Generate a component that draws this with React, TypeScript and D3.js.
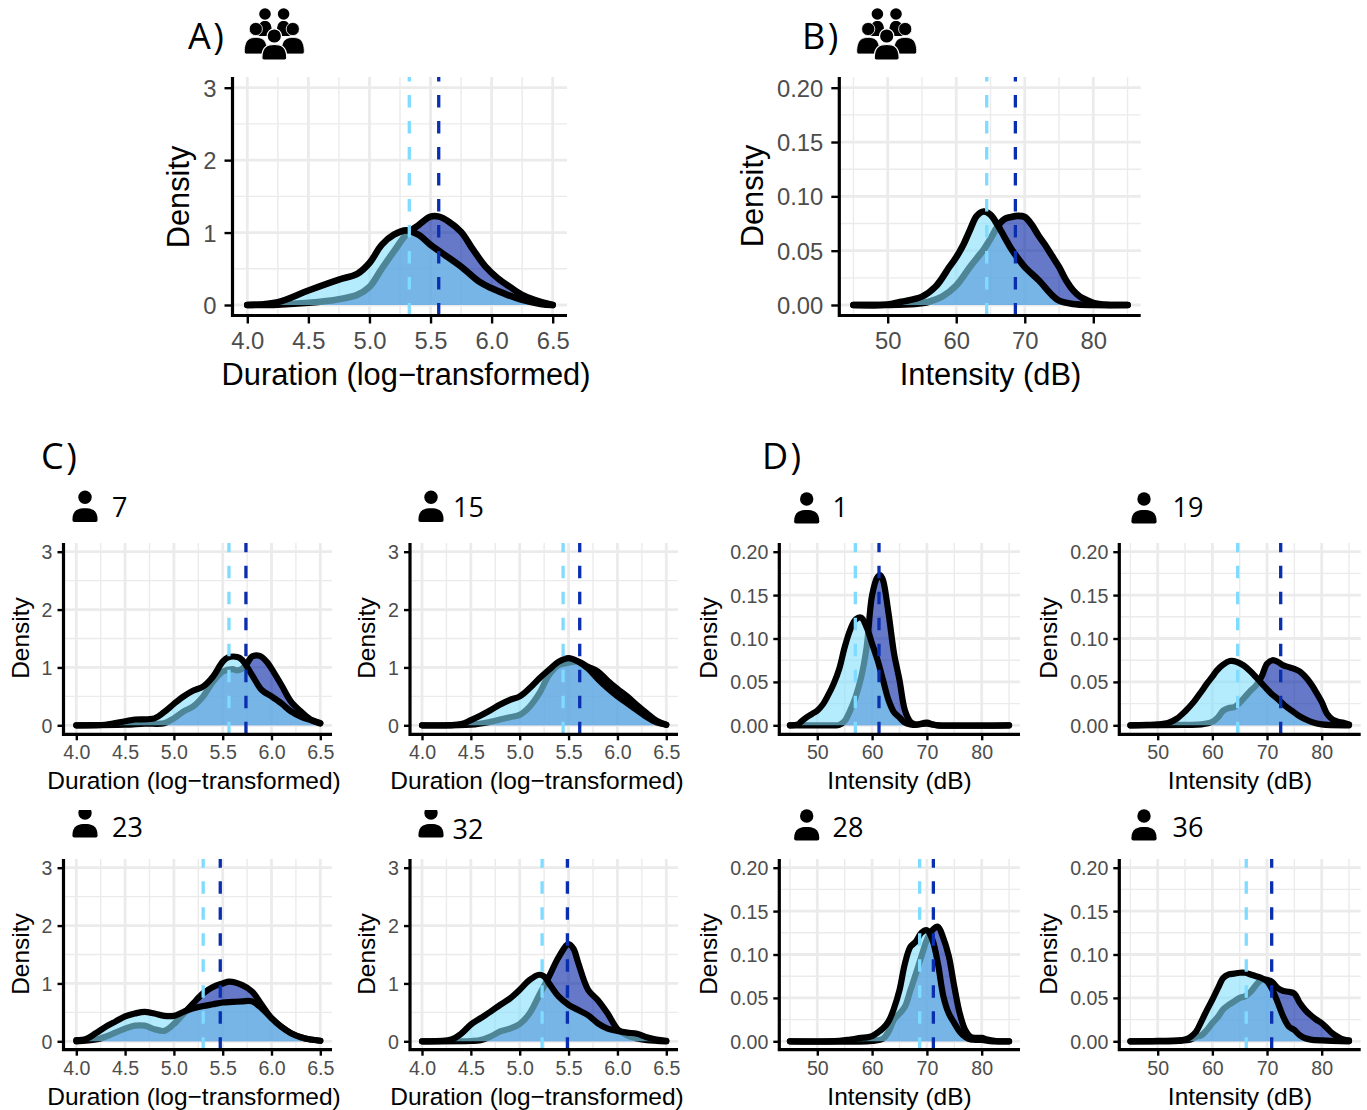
import React, { useEffect, useRef } from "react";
import * as d3 from "d3";

type Pts = [number, number][];

const durationTicks = [4, 4.5, 5, 5.5, 6, 6.5];
const durationMinor = [4.25, 4.75, 5.25, 5.75, 6.25];
const intensityTicks = [50, 60, 70, 80];
const intensityMinor = [45, 55, 65, 75, 85];
const durationDensityTicks = [0, 1, 2, 3];
const durationDensityMinor = [0.5, 1.5, 2.5];
const intensityDensityTicks = [0, 0.05, 0.1, 0.15, 0.2];
const intensityDensityMinor = [0.025, 0.075, 0.125, 0.175];

// group means, [light, dark]
const meansA = [5.326, 5.567];
const meansB = [64.45, 68.63];
const means7 = [5.564, 5.738];
const means15 = [5.444, 5.614];
const means23 = [5.3, 5.475];
const means32 = [5.229, 5.488];
const means1 = [56.94, 61.26];
const means19 = [64.63, 72.5];
const means28 = [68.68, 71.18];
const means36 = [66.2, 70.85];

// densities
const lightA: Pts = [[4,0],[4.25,0.04],[4.5,0.2],[4.75,0.35],[4.9,0.43],[5,0.58],[5.1,0.83],[5.2,0.97],[5.3,1.03],[5.4,0.97],[5.5,0.83],[5.6,0.71],[5.75,0.53],[5.9,0.32],[6,0.23],[6.1,0.16],[6.25,0.07],[6.4,0.015],[6.5,0]];
const darkA: Pts = [[4,0],[4.25,0.005],[4.5,0.03],[4.75,0.08],[4.9,0.14],[5,0.25],[5.1,0.5],[5.2,0.74],[5.3,0.97],[5.4,1.1],[5.5,1.22],[5.57,1.22],[5.65,1.15],[5.75,1.01],[5.85,0.76],[5.95,0.53],[6.05,0.37],[6.15,0.25],[6.25,0.14],[6.35,0.07],[6.5,0]];
const lightB: Pts = [[45,0],[50,0.0005],[52,0.003],[55,0.0077],[57,0.017],[59,0.035],[60,0.044],[61,0.055],[62,0.069],[63,0.082],[64,0.086],[65,0.083],[66,0.074],[67,0.063],[68,0.052],[69,0.043],[70,0.035],[72,0.023],[74,0.009],[75,0.004],[77,0.001],[80,0],[85,0]];
const darkB: Pts = [[45,0],[50,0],[54,0.001],[56,0.003],[58,0.008],[60,0.018],[62,0.035],[63,0.043],[64,0.051],[65,0.061],[66,0.072],[67,0.079],[68,0.081],[69,0.082],[70,0.081],[71,0.074],[72,0.064],[73,0.055],[74,0.045],[75,0.035],[76,0.023],[77,0.014],[78,0.008],[79,0.0046],[80,0.002],[82,0.0003],[85,0]];
const light7: Pts = [[4,0],[4.3,0.01],[4.5,0.07],[4.6,0.1],[4.8,0.12],[4.9,0.23],[5,0.37],[5.1,0.5],[5.2,0.6],[5.3,0.67],[5.4,0.84],[5.5,1.1],[5.55,1.17],[5.65,1.18],[5.7,1.13],[5.8,0.87],[5.9,0.61],[6,0.5],[6.1,0.38],[6.2,0.24],[6.3,0.15],[6.4,0.09],[6.5,0.03]];
const dark7: Pts = [[4,0],[4.5,0.01],[4.7,0.03],[4.9,0.035],[5,0.12],[5.1,0.24],[5.2,0.33],[5.3,0.5],[5.4,0.75],[5.5,0.93],[5.6,0.97],[5.65,0.95],[5.7,0.98],[5.75,1.07],[5.8,1.19],[5.88,1.2],[5.95,1.1],[6,0.98],[6.1,0.7],[6.2,0.41],[6.3,0.24],[6.4,0.1],[6.5,0.04]];
const light15: Pts = [[4,0],[4.4,0.02],[4.5,0.09],[4.6,0.17],[4.7,0.26],[4.8,0.36],[4.9,0.44],[5,0.5],[5.1,0.64],[5.2,0.81],[5.3,0.96],[5.4,1.1],[5.5,1.16],[5.6,1.1],[5.7,0.98],[5.8,0.8],[5.9,0.64],[6,0.5],[6.1,0.38],[6.2,0.26],[6.3,0.14],[6.4,0.05],[6.5,0.01]];
const dark15: Pts = [[4,0],[4.5,0.01],[4.7,0.06],[4.9,0.14],[5,0.18],[5.1,0.32],[5.2,0.55],[5.3,0.87],[5.4,1.04],[5.5,1.08],[5.6,1.1],[5.7,1.01],[5.8,0.93],[5.9,0.77],[6,0.63],[6.1,0.5],[6.2,0.35],[6.3,0.21],[6.4,0.08],[6.5,0.01]];
const light23: Pts = [[4,0.02],[4.1,0.04],[4.2,0.14],[4.3,0.25],[4.4,0.34],[4.5,0.43],[4.6,0.48],[4.7,0.51],[4.8,0.48],[4.9,0.44],[5,0.44],[5.1,0.51],[5.2,0.57],[5.3,0.61],[5.4,0.64],[5.5,0.67],[5.6,0.68],[5.7,0.69],[5.8,0.69],[5.9,0.57],[6,0.4],[6.1,0.25],[6.2,0.14],[6.3,0.07],[6.4,0.03],[6.5,0.01]];
const dark23: Pts = [[4,0],[4.2,0.03],[4.3,0.08],[4.4,0.15],[4.5,0.22],[4.6,0.27],[4.7,0.27],[4.8,0.21],[4.9,0.18],[5,0.3],[5.1,0.48],[5.2,0.66],[5.3,0.83],[5.4,0.94],[5.5,1],[5.57,1.03],[5.7,0.97],[5.8,0.86],[5.9,0.63],[6,0.4],[6.1,0.25],[6.2,0.14],[6.3,0.07],[6.4,0.03],[6.5,0.01]];
const light32: Pts = [[4,0],[4.3,0.03],[4.4,0.13],[4.5,0.29],[4.6,0.4],[4.7,0.51],[4.8,0.63],[4.9,0.74],[5,0.89],[5.1,1.06],[5.2,1.15],[5.25,1.12],[5.3,1],[5.4,0.77],[5.5,0.63],[5.6,0.54],[5.7,0.45],[5.8,0.31],[5.9,0.22],[6,0.18],[6.1,0.15],[6.2,0.13],[6.3,0.07],[6.4,0.03],[6.5,0.01]];
const dark32: Pts = [[4,0],[4.5,0.005],[4.6,0.02],[4.7,0.08],[4.8,0.17],[4.9,0.22],[5,0.3],[5.1,0.48],[5.2,0.8],[5.3,1.12],[5.4,1.46],[5.5,1.68],[5.55,1.6],[5.6,1.35],[5.7,0.89],[5.8,0.71],[5.9,0.48],[6,0.21],[6.1,0.1],[6.2,0.05],[6.3,0.02],[6.5,0]];
const light1: Pts = [[45,0],[46.5,0.001],[47,0.004],[48,0.009],[49,0.013],[50,0.017],[51,0.024],[52,0.035],[53,0.048],[54,0.065],[55,0.09],[56,0.11],[57,0.122],[58,0.124],[59,0.113],[60,0.094],[61,0.075],[62,0.052],[63,0.029],[64,0.015],[65,0.009],[66,0.003],[67,0.001],[68,0.0005],[70,0.003],[71,0.001],[72,0],[85,0]];
const dark1: Pts = [[45,0],[53,0],[54,0.0005],[55,0.005],[56,0.017],[57,0.033],[58,0.055],[59,0.09],[60,0.15],[61,0.171],[61.5,0.173],[62,0.167],[63,0.129],[64,0.083],[65,0.052],[66,0.017],[67,0.004],[68,0.001],[70,0.002],[71,0.001],[72,0],[85,0]];
const light19: Pts = [[45,0],[48,0.0005],[50,0.001],[52,0.003],[53.5,0.0077],[55,0.016],[56.6,0.027],[58,0.039],[59,0.048],[60,0.056],[60.8,0.063],[62,0.07],[63.2,0.074],[64.5,0.073],[65.7,0.069],[67,0.062],[68.2,0.054],[69.5,0.045],[70.7,0.037],[72,0.03],[73.2,0.023],[74.5,0.017],[75.7,0.0115],[77,0.007],[78.1,0.004],[80,0.001],[85,0]];
const dark19: Pts = [[45,0],[55,0.0005],[58,0.001],[60,0.004],[61,0.009],[62,0.017],[63,0.02],[64,0.021],[65,0.026],[66,0.033],[67,0.04],[68,0.046],[69,0.056],[70,0.071],[71,0.075],[72,0.073],[73,0.069],[74,0.067],[75,0.065],[76,0.062],[77,0.056],[78,0.048],[79,0.038],[80,0.027],[81,0.013],[82,0.0065],[83,0.004],[84,0.003],[85,0.001]];
const light28: Pts = [[45,0],[54,0.0005],[56,0.002],[58,0.004],[59,0.0045],[60,0.006],[61,0.01],[62,0.015],[63,0.023],[64,0.038],[65,0.059],[66,0.09],[67,0.109],[68,0.115],[69,0.125],[70,0.128],[71,0.117],[72,0.09],[73,0.052],[74,0.032],[75,0.021],[76,0.011],[77,0.005],[78,0.002],[80,0.0015],[82,0],[85,0]];
const dark28: Pts = [[45,0],[60,0.0005],[62,0.003],[63,0.011],[64,0.025],[65,0.032],[66,0.04],[67,0.059],[68,0.078],[69,0.098],[70,0.117],[71,0.128],[72,0.132],[73,0.119],[74,0.098],[75,0.063],[76,0.032],[77,0.013],[78,0.005],[79,0.004],[80,0.004],[81,0.002],[83,0],[85,0]];
const light36: Pts = [[45,0],[50,0.0005],[55,0.002],[56,0.005],[57,0.011],[58,0.023],[59,0.036],[60,0.048],[61,0.061],[62,0.073],[63,0.077],[64,0.078],[65,0.079],[66,0.079],[67,0.077],[68,0.075],[69,0.073],[70,0.069],[71,0.059],[72,0.044],[73,0.028],[74,0.017],[75,0.013],[76,0.007],[77,0.0035],[78,0.002],[80,0.001],[85,0]];
const dark36: Pts = [[45,0],[54,0.0005],[56,0.002],[57,0.005],[58,0.007],[59,0.013],[60,0.021],[61,0.028],[62,0.037],[63,0.042],[64,0.046],[65,0.05],[66,0.052],[67,0.057],[68,0.065],[69,0.071],[70,0.071],[71,0.068],[72,0.061],[73,0.058],[74,0.057],[75,0.055],[76,0.044],[77,0.036],[78,0.03],[79,0.025],[80,0.021],[81,0.015],[82,0.009],[83,0.005],[84,0.002],[85,0.001]];

const LIGHT = "#82DEFC";
const DARK = "#0020A5";
const LIGHT_DASH = "#7FDBFF";
const DARK_DASH = "#0A2FAE";
const TICK_COLOR = "#4D4D4D";
const SANS = "'Liberation Sans', Arial, sans-serif";
const LABEL_FONT = "'Open Sans', sans-serif";

// kind: d = duration, i = intensity. big = the two top panels
const panels = [
  { kind: "d", big: true, left: 232.5, right: 567, top: 77, bottom: 315.5, x0: 247.3, x1: 552.7, y0: 305, y3: 87.7, light: lightA, dark: darkA, means: meansA, titleX: 406, densityX: 188.5, densityY: 197 },
  { kind: "i", big: true, left: 839.3, right: 1140.7, top: 77, bottom: 315.5, x0: 887.7, x1: 1093.3, y0: 305, y3: 87.7, light: lightB, dark: darkB, means: meansB, titleX: 990.5, densityX: 762.5, densityY: 196 },
  { kind: "d", big: false, left: 63.5, right: 332, top: 543, bottom: 734.3, x0: 76.3, x1: 320.3, y0: 725.3, y3: 551.7, light: light7, dark: dark7, means: means7, titleX: 194, densityX: 29.3, densityY: 638 },
  { kind: "d", big: false, left: 410, right: 678, top: 543, bottom: 734.3, x0: 422, x1: 666.3, y0: 725.3, y3: 551.7, light: light15, dark: dark15, means: means15, titleX: 537, densityX: 375, densityY: 638 },
  { kind: "d", big: false, left: 63.5, right: 332, top: 859, bottom: 1049.7, x0: 76.3, x1: 320.3, y0: 1041.3, y3: 867.7, light: light23, dark: dark23, means: means23, titleX: 194, densityX: 29.3, densityY: 954 },
  { kind: "d", big: false, left: 410, right: 678, top: 859, bottom: 1049.7, x0: 422, x1: 666.3, y0: 1041.3, y3: 867.7, light: light32, dark: dark32, means: means32, titleX: 537, densityX: 375, densityY: 954 },
  { kind: "i", big: false, left: 779.3, right: 1020, top: 543, bottom: 734.3, x0: 817.3, x1: 981.7, y0: 725.3, y3: 551.7, light: light1, dark: dark1, means: means1, titleX: 899.5, densityX: 716.7, densityY: 638 },
  { kind: "i", big: false, left: 1119.3, right: 1360.7, top: 543, bottom: 734.3, x0: 1157.7, x1: 1321.7, y0: 725.3, y3: 551.7, light: light19, dark: dark19, means: means19, titleX: 1240, densityX: 1056.7, densityY: 638 },
  { kind: "i", big: false, left: 779.3, right: 1020, top: 859, bottom: 1049.7, x0: 817.3, x1: 981.7, y0: 1041.3, y3: 867.7, light: light28, dark: dark28, means: means28, titleX: 899.5, densityX: 716.7, densityY: 954 },
  { kind: "i", big: false, left: 1119.3, right: 1360.7, top: 859, bottom: 1049.7, x0: 1157.7, x1: 1321.7, y0: 1041.3, y3: 867.7, light: light36, dark: dark36, means: means36, titleX: 1240, densityX: 1056.7, densityY: 954 },
];

const panelLabels = [
  { text: "A)", x: 188, y: 49 },
  { text: "B)", x: 802, y: 49 },
  { text: "C)", x: 41, y: 469 },
  { text: "D)", x: 762, y: 469 },
];
const personLabels = [
  { text: "7", x: 112, y: 517, cx: 85, head: 497.3 },
  { text: "15", x: 453, y: 517, cx: 431, head: 497.3 },
  { text: "1", x: 832.5, y: 517, cx: 806.7, head: 499 },
  { text: "19", x: 1172.5, y: 517, cx: 1144, head: 499 },
  { text: "23", x: 112, y: 837, cx: 85, head: 813, clip: true },
  { text: "32", x: 452.5, y: 838.5, cx: 431, head: 813, clip: true },
  { text: "28", x: 832.5, y: 837, cx: 806.7, head: 816 },
  { text: "36", x: 1172.5, y: 837, cx: 1144, head: 816 },
];
const groupIcons = [274.3, 886.7];

const dome = (cx: number, top: number, bottom: number, half: number) =>
  `M${cx - half},${bottom - 2} C${cx - half},${top + 1} ${cx - half * 0.45},${top} ${cx},${top} ` +
  `C${cx + half * 0.45},${top} ${cx + half},${top + 1} ${cx + half},${bottom - 2} ` +
  `Q${cx + half},${bottom} ${cx + half - 2},${bottom} L${cx - half + 2},${bottom} Q${cx - half},${bottom} ${cx - half},${bottom - 2} Z`;

export default function App() {
  const ref = useRef<SVGSVGElement>(null);

  useEffect(() => {
    const svg = d3.select(ref.current);
    svg.selectAll("*").remove();

    svg.append("defs").append("clipPath").attr("id", "cut-top")
      .append("rect").attr("x", 0).attr("y", 810).attr("width", 1367).attr("height", 300);

    panels.forEach((p) => {
      const isD = p.kind === "d";
      const xTicks = isD ? durationTicks : intensityTicks;
      const xMinor = isD ? durationMinor : intensityMinor;
      const yTicks = isD ? durationDensityTicks : intensityDensityTicks;
      const yMinor = isD ? durationDensityMinor : intensityDensityMinor;
      const x = d3.scaleLinear().domain(isD ? [4, 6.5] : [50, 80]).range([p.x0, p.x1]);
      const y = d3.scaleLinear().domain(isD ? [0, 3] : [0, 0.2]).range([p.y0, p.y3]);
      const g = svg.append("g");

      // grid
      const grid = g.append("g").attr("stroke", "#EBEBEB").attr("fill", "none");
      grid.selectAll(".vmin").data(xMinor).join("line").attr("x1", (d) => x(d)).attr("x2", (d) => x(d))
        .attr("y1", p.top).attr("y2", p.bottom).attr("stroke-width", 1.4);
      grid.selectAll(".hmin").data(yMinor).join("line").attr("y1", (d) => y(d)).attr("y2", (d) => y(d))
        .attr("x1", p.left).attr("x2", p.right).attr("stroke-width", 1.4);
      grid.selectAll(".vmaj").data(xTicks).join("line").attr("x1", (d) => x(d)).attr("x2", (d) => x(d))
        .attr("y1", p.top).attr("y2", p.bottom).attr("stroke-width", 2.8);
      grid.selectAll(".hmaj").data(yTicks).join("line").attr("y1", (d) => y(d)).attr("y2", (d) => y(d))
        .attr("x1", p.left).attr("x2", p.right).attr("stroke-width", 2.8);

      // densities: dark first, light over it
      const curve = d3.curveCatmullRom.alpha(0.5);
      const area = d3.area<[number, number]>().x((d) => x(d[0])).y0(y(0)).y1((d) => y(Math.max(d[1], 0))).curve(curve);
      const line = d3.line<[number, number]>().x((d) => x(d[0])).y((d) => y(d[1])).curve(curve);
      const sw = p.big ? 6.6 : 6.2;
      [{ pts: p.dark, fill: DARK }, { pts: p.light, fill: LIGHT }].forEach((s) => {
        g.append("path").attr("d", area(s.pts)).attr("fill", s.fill).attr("fill-opacity", 0.6);
        g.append("path").attr("d", line(s.pts)).attr("fill", "none").attr("stroke", "#000")
          .attr("stroke-width", sw).attr("stroke-linecap", "round").attr("stroke-linejoin", "round");
      });

      // mean lines, dash pattern starts at the bottom
      p.means.forEach((m, i) => {
        g.append("line").attr("x1", x(m)).attr("x2", x(m)).attr("y1", p.bottom).attr("y2", p.top)
          .attr("stroke", i === 0 ? LIGHT_DASH : DARK_DASH).attr("stroke-width", 3.3)
          .attr("stroke-dasharray", "12.5 13.5");
      });

      // axes
      const tickLen = p.big ? 8 : 6;
      const xAxis = d3.axisBottom(x).tickValues(xTicks).tickSize(tickLen)
        .tickFormat((d) => (isD ? d3.format(".1f")(d as number) : d3.format("d")(d as number)));
      const yAxis = d3.axisLeft(y).tickValues(yTicks).tickSize(tickLen).tickPadding(p.big ? 8 : 5)
        .tickFormat((d) => (isD ? d3.format("d")(d as number) : d3.format(".2f")(d as number)));
      const tickSize = p.big ? 23.8 : 19.6;
      const gx = g.append("g").attr("transform", `translate(0,${p.bottom})`).call(xAxis);
      const gy = g.append("g").attr("transform", `translate(${p.left},0)`).call(yAxis);
      [gx, gy].forEach((a) => {
        a.select(".domain").remove();
        a.selectAll("line").attr("stroke", "#000").attr("stroke-width", 2.4);
        a.selectAll("text").attr("fill", TICK_COLOR).style("font-family", SANS).style("font-size", `${tickSize}px`);
      });
      gx.selectAll("text").attr("y", p.big ? 33 : 25).attr("dy", 0);
      gy.selectAll("text").attr("dy", "0.36em");

      g.append("path")
        .attr("d", `M${p.left},${p.top} L${p.left},${p.bottom} L${p.right},${p.bottom}`)
        .attr("fill", "none").attr("stroke", "#000").attr("stroke-width", 3.2);

      // titles
      const titleSize = p.big ? 30.8 : 24.5;
      g.append("text").attr("x", p.titleX).attr("y", p.bottom + (p.big ? 69.5 : 55))
        .attr("text-anchor", "middle").style("font-family", SANS).style("font-size", `${titleSize}px`)
        .text(isD ? "Duration (log\u2212transformed)" : "Intensity (dB)");
      g.append("text").attr("transform", `translate(${p.densityX},${p.densityY}) rotate(-90)`)
        .attr("text-anchor", "middle").style("font-family", SANS).style("font-size", `${titleSize}px`)
        .text("Density");
    });

    // panel letters
    svg.selectAll(".panel-label").data(panelLabels).join("text")
      .attr("x", (d) => d.x).attr("y", (d) => d.y)
      .style("font-family", LABEL_FONT).style("font-size", "36px").style("letter-spacing", "2.5px").text((d) => d.text);

    // single person icons
    personLabels.forEach((d) => {
      const icon = svg.append("g").attr("clip-path", d.clip ? "url(#cut-top)" : null);
      icon.append("circle").attr("cx", d.cx).attr("cy", d.head).attr("r", 6.7);
      icon.append("path").attr("d", dome(d.cx, d.head + 11, d.head + 24.6, 12.6));
      svg.append("text").attr("x", d.x).attr("y", d.y)
        .style("font-family", LABEL_FONT).style("font-size", "27px").text(d.text);
    });

    // group icons
    groupIcons.forEach((cx) => {
      const icon = svg.append("g");
      [-9.3, 9.3].forEach((o) => {
        icon.append("circle").attr("cx", cx + o).attr("cy", 14).attr("r", 5.8);
        icon.append("path").attr("d", dome(cx + o, 21, 36, 7));
      });
      [-18.5, 18.5].forEach((o) => {
        icon.append("circle").attr("cx", cx + o).attr("cy", 29).attr("r", 6.6)
          .attr("stroke", "#fff").attr("stroke-width", 0.8);
        icon.append("path").attr("d", dome(cx + o, 37.5, 54, 11.5)).attr("stroke", "#fff").attr("stroke-width", 0.8);
      });
      icon.append("circle").attr("cx", cx).attr("cy", 36).attr("r", 7.2).attr("stroke", "#fff").attr("stroke-width", 1.2);
      icon.append("path").attr("d", dome(cx, 44.5, 60, 12.5)).attr("stroke", "#fff").attr("stroke-width", 1.2);
    });
  }, []);

  return (
    <svg
      ref={ref}
      width={1367}
      height={1110}
      style={{ position: "absolute", left: 0, top: 0, background: "#fff" }}
    />
  );
}
